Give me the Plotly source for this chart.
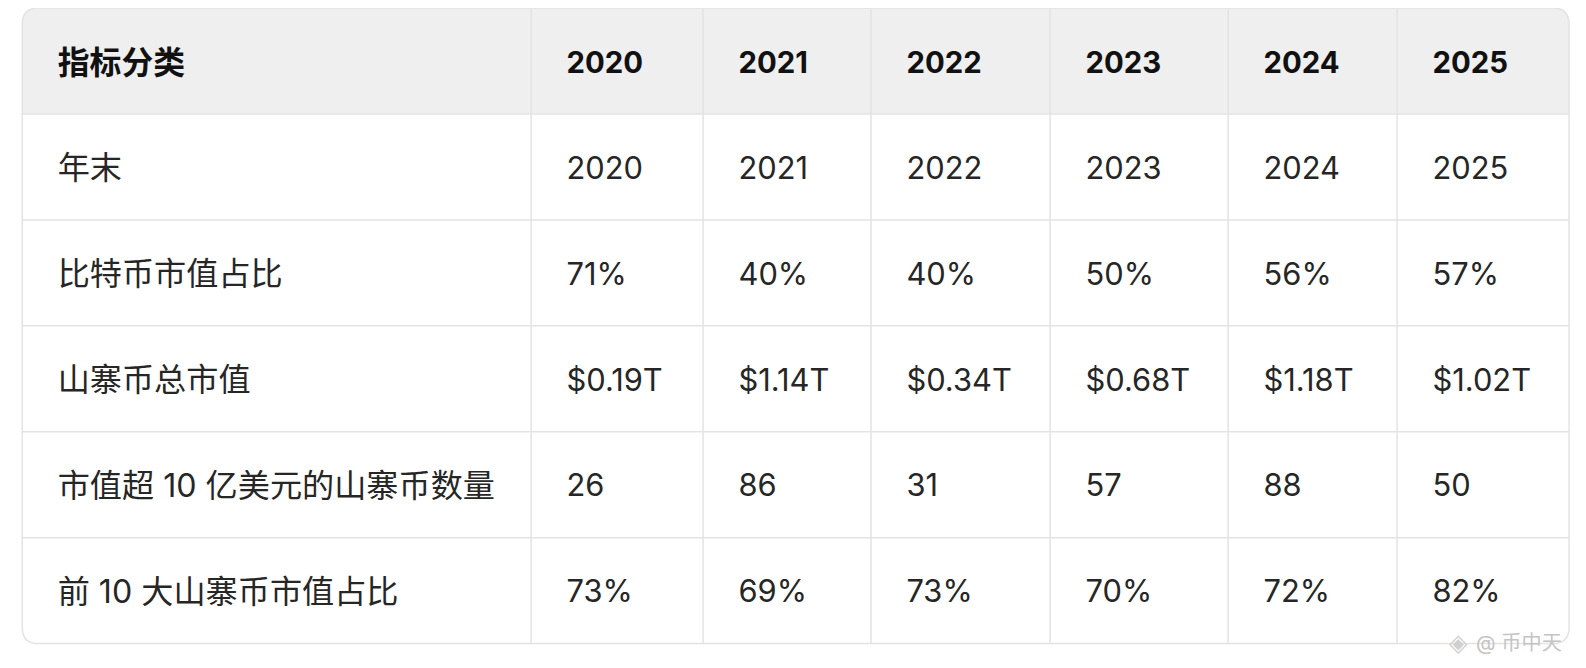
import plotly.graph_objects as go

# table content
header = ["指标分类", "2020", "2021", "2022", "2023", "2024", "2025"]
row_labels = ["年末", "比特币市值占比", "山寨币总市值", "市值超 10 亿美元的山寨币数量", "前 10 大山寨币市值占比"]
year_end = ["2020", "2021", "2022", "2023", "2024", "2025"]
btc_share = ["71%", "40%", "40%", "50%", "56%", "57%"]
alt_cap = ["$0.19T", "$1.14T", "$0.34T", "$0.68T", "$1.18T", "$1.02T"]
alts_over_1b = ["26", "86", "31", "57", "88", "50"]
top10_share = ["73%", "69%", "73%", "70%", "72%", "82%"]

rows = [year_end, btc_share, alt_cap, alts_over_1b, top10_share]

# layout of the grid (screen pixel units on the axes)
W, H = 1586, 668
body_margin = 8   # page margin around the plot div
shot_scale = 0.9885  # the page photo comes out slightly shrunk
col_widths = [503, 170, 166, 177, 176, 167, 170]
row_height = 104.7
x0, y0 = 22, 8
pad = 35
text_drop = 4  # plotly sits text a little high of the cell middle
radius = 16
line_col = "#e3e3e3"

col_edges = [x0]
for w in col_widths:
    col_edges.append(col_edges[-1] + w)
n_rows = len(rows) + 1
row_edges = [y0 + i * row_height for i in range(n_rows + 1)]
x1, y1 = col_edges[-1], row_edges[-1]

fs = 1 / shot_scale

fig = go.Figure()

# header text
fig.add_trace(go.Scatter(
    x=[e + pad for e in col_edges[:-1]],
    y=[(row_edges[0] + row_edges[1]) / 2 + text_drop + 1] * len(header),
    text=header,
    mode="text",
    textposition="middle right",
    textfont=dict(size=[31.5 * fs] + [29 * fs] * (len(header) - 1),
                  color="#111111", weight="bold"),
    hoverinfo="skip",
))

# body text
xs, ys, texts, sizes = [], [], [], []
for i, (label, vals) in enumerate(zip(row_labels, rows)):
    yc = (row_edges[i + 1] + row_edges[i + 2]) / 2 + text_drop
    for j, t in enumerate([label] + vals):
        xs.append(col_edges[j] + pad)
        ys.append(yc)
        texts.append(t)
        sizes.append((31.8 if j == 0 else 30.5) * fs)

fig.add_trace(go.Scatter(
    x=xs, y=ys, text=texts,
    mode="text",
    textposition="middle right",
    textfont=dict(size=sizes, color="#262626"),
    hoverinfo="skip",
))

shapes = []
r = radius
# header background with rounded top corners
hb = row_edges[1]
shapes.append(dict(
    type="path", xref="x", yref="y", layer="below",
    path=(f"M {x0},{hb} L {x0},{y0 + r} Q {x0},{y0} {x0 + r},{y0} "
          f"L {x1 - r},{y0} Q {x1},{y0} {x1},{y0 + r} L {x1},{hb} Z"),
    fillcolor="#efefef", line=dict(width=0),
))
# horizontal lines
for y in row_edges[1:-1]:
    shapes.append(dict(type="line", xref="x", yref="y", layer="below",
                       x0=x0, x1=x1, y0=y, y1=y,
                       line=dict(color=line_col, width=1.5)))
# vertical lines
for x in col_edges[1:-1]:
    shapes.append(dict(type="line", xref="x", yref="y", layer="below",
                       x0=x, x1=x, y0=y0, y1=y1,
                       line=dict(color=line_col, width=1.5)))
# outer rounded border
shapes.append(dict(
    type="path", xref="x", yref="y", layer="below",
    path=(f"M {x0 + r},{y0} L {x1 - r},{y0} Q {x1},{y0} {x1},{y0 + r} "
          f"L {x1},{y1 - r} Q {x1},{y1} {x1 - r},{y1} "
          f"L {x0 + r},{y1} Q {x0},{y1} {x0},{y1 - r} "
          f"L {x0},{y0 + r} Q {x0},{y0} {x0 + r},{y0} Z"),
    fillcolor="rgba(0,0,0,0)", line=dict(color=line_col, width=1.5),
))

pw, ph = W - 2 * body_margin, H - 2 * body_margin
rx0 = body_margin * shot_scale
ry0 = body_margin * shot_scale

fig.update_layout(
    width=pw, height=ph,
    margin=dict(l=0, r=0, t=0, b=0),
    paper_bgcolor="white", plot_bgcolor="white",
    showlegend=False,
    font=dict(family="Inter, 'Noto Sans CJK SC', sans-serif"),
    xaxis=dict(range=[rx0, rx0 + pw * shot_scale], visible=False, fixedrange=True),
    yaxis=dict(range=[ry0 + ph * shot_scale, ry0], visible=False, fixedrange=True),
    shapes=shapes,
    annotations=[
        dict(x=1546, y=635, xref="x", yref="y",
             text="@ 币中天", showarrow=False,
             xanchor="right", yanchor="middle",
             font=dict(size=20 * fs, color="#c4c4c4")),
        dict(x=1442, y=635, xref="x", yref="y",
             text="◈", showarrow=False,
             xanchor="center", yanchor="middle",
             font=dict(size=24 * fs, color="#d0d0d0")),
    ],
)

fig.write_html("out.html")
